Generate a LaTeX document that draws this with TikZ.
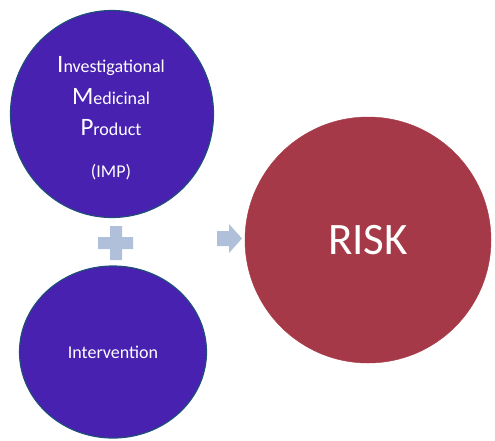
\documentclass[tikz,border=0pt]{standalone}
\usepackage{fontspec}
\setmainfont{Carlito}
\usetikzlibrary{shapes.geometric}

\definecolor{impblue}{RGB}{72,33,176}
\definecolor{rimblue}{RGB}{31,78,121}
\definecolor{riskred}{RGB}{166,57,71}
\definecolor{signgray}{RGB}{177,192,218}

\newcommand{\capfirst}[2]{{\fontsize{25}{25}\selectfont #1}{\fontsize{18}{18}\selectfont #2}}

\tikzset{
  bubble/.style={ellipse, fill=impblue, draw=rimblue, line width=1.2pt, inner sep=0pt},
  bubbletext/.style={text=white, anchor=base},
}

\begin{document}
\begin{tikzpicture}[x=1pt,y=-1pt]
\useasboundingbox (0,0) rectangle (495,440);
% left bubbles
\node[bubble, minimum width=203pt, minimum height=207pt] (imp) at (112,114) {};
\node[bubble, minimum width=187pt, minimum height=172pt] (interv) at (113,352) {};
\node[bubbletext] (impa) at (111,72) {\capfirst{I}{nvestigational}};
\node[bubbletext] (impb) at (111,104) {\capfirst{M}{edicinal}};
\node[bubbletext] (impc) at (111,135) {\capfirst{P}{roduct}};
\node[bubbletext, font=\fontsize{18}{18}\selectfont] (impd) at (111,177) {(IMP)};
\node[bubbletext, font=\fontsize{18}{18}\selectfont] (intervtext) at (113,358) {Intervention};
% plus and arrow
\fill[signgray] (110,226) -- (122,226) -- (122,237) -- (133,237) -- (133,249) -- (122,249)
  -- (122,260) -- (110,260) -- (110,249) -- (98,249) -- (98,237) -- (110,237) -- cycle;
\fill[signgray] (217,231) -- (229,231) -- (229,224) -- (242,238.5) -- (229,253)
  -- (229,246) -- (217,246) -- cycle;
% result
\node[circle, fill=riskred, draw=riskred, minimum size=246pt, inner sep=0pt,
  text=white, font=\fontsize{45}{45}\selectfont] (risk) at (368,240) {RISK};
\end{tikzpicture}
\end{document}
